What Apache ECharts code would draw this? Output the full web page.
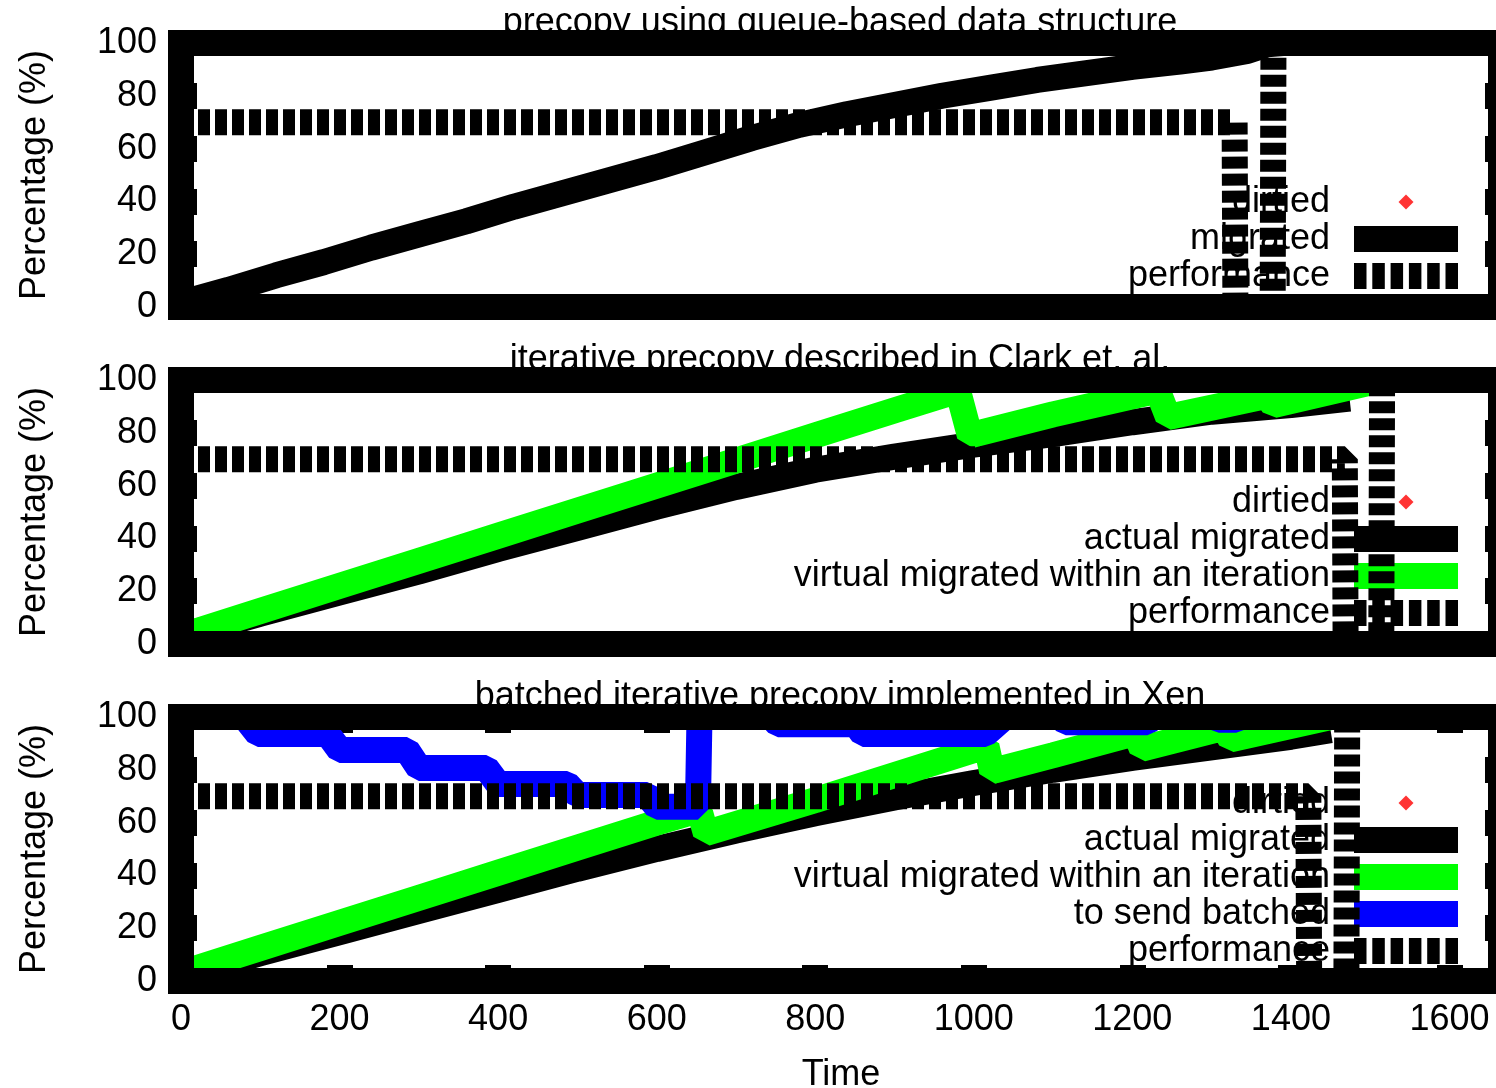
<!DOCTYPE html>
<html>
<head>
<meta charset="utf-8">
<title>Migration progress</title>
<script src="https://cdn.jsdelivr.net/npm/echarts@6/dist/echarts.min.js"></script>
<style>
  html, body { margin: 0; padding: 0; background: #ffffff; }
  #chart { width: 1496px; height: 1088px; }
</style>
</head>
<body>
<div id="chart"></div>
<script>
// ---- titles and tick labels ----
const panelTitles = [
  'precopy using queue-based data structure',
  'iterative precopy described in Clark et. al.',
  'batched iterative precopy implemented in Xen'
];
const timeTicks = [0, 200, 400, 600, 800, 1000, 1200, 1400, 1600];
const percentTicks = [0, 20, 40, 60, 80, 100];

// ---- panel 1: queue-based precopy ([time, %]) ----
const dirtiedQueue = [[30,3.5],[90,9],[150,14.5],[210,20],[270,25],[330,30],[390,35.5],[450,40.5],[510,45.5],[570,50.5],[630,56],[690,61],[750,66.5],[810,71],[870,75],[930,78.5],[990,81.5],[1050,84.5],[1110,87.5],[1170,90],[1230,92],[1290,94],[1340,96.5]];
const migratedQueue = [[0,1.5],[60,6.5],[120,12],[180,17],[240,22.5],[300,27.5],[360,32.5],[420,38],[480,43],[540,48],[600,53],[660,58.5],[720,64],[780,69],[840,73],[900,76.5],[960,80],[1020,83],[1080,86],[1140,88.5],[1200,91],[1260,93],[1300,94.5],[1345,97],[1370,99.5],[1390,100],[1665,100]];
const performanceQueue = [[0,70],[1329,70],[1330,0],[1377,0],[1378,100],[1665,100]];

// ---- panel 2: iterative precopy ----
const dirtiedIter = [[30,5],[90,10.5],[150,15.5],[210,20.5],[270,25],[330,30],[390,35],[450,40],[510,45],[570,49.5],[630,54],[690,59],[750,63],[810,66.5],[870,69.5],[930,73],[990,75],[1050,77.5],[1110,80],[1170,83],[1230,85],[1290,87.5],[1350,89.5],[1410,91],[1460,92.5]];
const actualIter = [[0,3],[100,11.5],[200,19.5],[300,27.5],[400,36],[500,44],[600,52],[700,59.5],[800,66],[900,71],[1000,75.5],[1100,79.5],[1200,84],[1300,88],[1400,90.5],[1474,93]];
const virtualIter = [[0,3],[100,12.5],[200,22],[300,31.5],[400,41],[500,50.5],[600,60],[700,69.5],[800,79],[900,88.5],[980,96],[995,79],[1100,87],[1225,95.5],[1232,96],[1245,86],[1370,94],[1378,90.5],[1500,99]];
const performanceIter = [[0,70],[1468,70],[1469,0],[1514,0],[1515,100],[1665,100]];

// ---- panel 3: batched iterative precopy (Xen) ----
const dirtiedXen = [[30,4],[90,9.5],[150,14.5],[210,19.5],[270,24],[330,29],[390,34],[450,38.5],[510,43],[570,48],[630,52],[690,56.5],[750,60.5],[810,64],[870,68],[930,71.5],[990,74.5],[1050,77.5],[1110,80.5],[1170,83],[1230,86],[1290,88],[1350,90.5],[1410,93]];
const actualXen = [[0,2],[100,10.5],[200,18.5],[300,26.5],[400,34.5],[500,42.5],[600,50],[650,53.5],[700,57],[800,63.5],[900,69.5],[1000,75],[1100,80],[1200,84.5],[1300,88.5],[1400,92.5],[1450,95]];
const virtualXen = [[0,3],[100,12.5],[200,22],[300,31.5],[400,41],[500,50.5],[600,60],[645,64],[655,63.5],[662,56],[800,68.5],[900,78],[1016,89],[1023,79.5],[1100,85.5],[1204,94],[1212,88],[1316,96],[1324,91.5],[1450,100]];
const batchedXen = [[0,100],[80,100],[97,93.6],[185,93.6],[200,87.5],[285,87.5],[300,80.7],[385,80.7],[400,74.6],[487,74.6],[500,70.5],[588,70.5],[600,66],[652,66],[654,100],[745,100],[753,97.3],[851,97.3],[860,93.6],[1015,93.6],[1039,100],[1110,100],[1116,98],[1219,98],[1225,100],[1305,100],[1309,99],[1331,99],[1335,100],[1470,100]];
const performanceXen = [[0,70],[1422,70],[1423,0],[1470,0],[1471,100],[1665,100]];

// ---- layout ----
const FONT = 'Liberation Sans, Arial, Helvetica, sans-serif';
const GRID_LEFT = 181, GRID_WIDTH = 1320, GRID_HEIGHT = 264;
const gridTops = [43, 380, 717];
const legendTops = [184, 484, 785];
const X_MAX = 1665;
const LINE_W = 26;
const GREEN = '#00ff00', BLUE = '#0000ff', RED = '#ff0000', BLACK = '#000000';

// legend keys (104 x 26 boxes)
const ICON_SOLID = 'path://M0,0H104V26H0Z';
const ICON_DASHED = 'path://M0,0h12.5v26h-12.5z M18.3,0h12.5v26h-12.5z M36.6,0h12.5v26h-12.5z M54.9,0h12.5v26h-12.5z M73.2,0h12.5v26h-12.5z M91.5,0h12.5v26h-12.5z';
const ICON_DIAMOND = 'path://M0,0M104,26M52,5.5L59.5,13L52,20.5L44.5,13Z';

const grids = gridTops.map(top => ({
  left: GRID_LEFT, top: top, width: GRID_WIDTH, height: GRID_HEIGHT,
  outerBoundsMode: 'none', containLabel: false,
  show: true, borderColor: BLACK, borderWidth: LINE_W,
  backgroundColor: 'transparent', z: 10
}));

// short, heavy inward ticks that poke 3px out of the frame
function ticks() {
  return { show: true, inside: true, length: 16, lineStyle: { color: BLACK, width: LINE_W } };
}

const xAxes = [0, 1, 2].map(i => ({
  type: 'value', gridIndex: i, min: 0, max: X_MAX, interval: 200,
  show: i === 2, position: 'bottom',
  axisLine: { show: false, onZero: false },
  axisTick: ticks(),
  splitLine: { show: false },
  axisLabel: {
    show: i === 2, margin: 21, fontSize: 36, color: BLACK, fontFamily: FONT,
    showMaxLabel: false,
    formatter: v => (timeTicks.indexOf(v) >= 0 ? String(v) : '')
  },
  name: i === 2 ? 'Time' : '',
  nameLocation: 'middle', nameGap: 76,
  nameTextStyle: { fontSize: 36, color: BLACK, fontFamily: FONT }
}));
// mirrored ticks along the top of the bottom panel
xAxes.push({
  type: 'value', gridIndex: 2, min: 0, max: X_MAX, interval: 200, position: 'top',
  axisLine: { show: false, onZero: false }, axisTick: ticks(), axisLabel: { show: false }, splitLine: { show: false }
});

const yAxes = [0, 1, 2].map(i => ({
  type: 'value', gridIndex: i, min: 0, max: 100, interval: 20, position: 'left',
  axisLine: { show: false, onZero: false }, axisTick: ticks(), splitLine: { show: false },
  axisLabel: {
    margin: 24, fontSize: 36, color: BLACK, fontFamily: FONT, padding: [5, 0, 0, 0],
    formatter: v => (percentTicks.indexOf(v) >= 0 ? String(v) : '')
  },
  name: 'Percentage (%)', nameLocation: 'middle', nameGap: 128,
  nameTextStyle: { fontSize: 36, color: BLACK, fontFamily: FONT }
}));
[0, 1, 2].forEach(i => yAxes.push({
  type: 'value', gridIndex: i, min: 0, max: 100, interval: 20, position: 'right',
  axisLine: { show: false, onZero: false }, axisTick: ticks(), axisLabel: { show: false }, splitLine: { show: false }
}));

function lineSeries(name, data, panel, color, z, dashed) {
  return {
    type: 'line', name: name, data: data,
    xAxisIndex: panel, yAxisIndex: panel,
    color: color, z: z,
    symbol: 'none', smooth: false, animation: false,
    lineStyle: { color: color, width: LINE_W, type: dashed ? [12, 5] : 'solid', cap: 'butt', join: 'bevel' }
  };
}
function dirtiedSeries(data, panel) {
  return {
    type: 'scatter', name: 'dirtied', data: data,
    xAxisIndex: panel, yAxisIndex: panel,
    color: RED, z: 2, symbol: 'diamond', symbolSize: 6, animation: false
  };
}

const series = [
  dirtiedSeries(dirtiedQueue, 0),
  lineSeries('migrated', migratedQueue, 0, BLACK, 3, false),
  lineSeries('performance', performanceQueue, 0, BLACK, 6, true),

  dirtiedSeries(dirtiedIter, 1),
  lineSeries('actual migrated', actualIter, 1, BLACK, 3, false),
  lineSeries('virtual migrated within an iteration', virtualIter, 1, GREEN, 4, false),
  lineSeries('performance', performanceIter, 1, BLACK, 6, true),

  dirtiedSeries(dirtiedXen, 2),
  lineSeries('actual migrated', actualXen, 2, BLACK, 3, false),
  lineSeries('virtual migrated within an iteration', virtualXen, 2, GREEN, 4, false),
  lineSeries('to send batched', batchedXen, 2, BLUE, 5, false),
  lineSeries('performance', performanceXen, 2, BLACK, 6, true)
];

function legendBlock(top, names) {
  const icons = { 'dirtied': ICON_DIAMOND, 'performance': ICON_DASHED };
  return {
    orient: 'vertical', align: 'right', right: 38, top: top, padding: 0, z: 1,
    itemWidth: 104, itemHeight: 26, itemGap: 1,
    itemStyle: { borderWidth: 0 },
    selectedMode: false,
    textStyle: { fontSize: 36, color: BLACK, fontFamily: FONT, padding: [0, 19, 0, 0] },
    data: names.map(n => ({ name: n, icon: icons[n] || ICON_SOLID }))
  };
}

const option = {
  animation: false,
  backgroundColor: '#ffffff',
  textStyle: { fontFamily: FONT },
  title: panelTitles.map((t, i) => ({
    text: t, left: 840, textAlign: 'center', top: gridTops[i] - 38, padding: 0, z: 1,
    textStyle: { fontSize: 36, fontWeight: 'normal', color: BLACK, fontFamily: FONT }
  })),
  grid: grids,
  xAxis: xAxes,
  yAxis: yAxes,
  legend: [
    legendBlock(legendTops[0], ['dirtied', 'migrated', 'performance']),
    legendBlock(legendTops[1], ['dirtied', 'actual migrated', 'virtual migrated within an iteration', 'performance']),
    legendBlock(legendTops[2], ['dirtied', 'actual migrated', 'virtual migrated within an iteration', 'to send batched', 'performance'])
  ],
  series: series
};

const chart = echarts.init(document.getElementById('chart'), null, { renderer: 'canvas' });
chart.setOption(option);
</script>
</body>
</html>
